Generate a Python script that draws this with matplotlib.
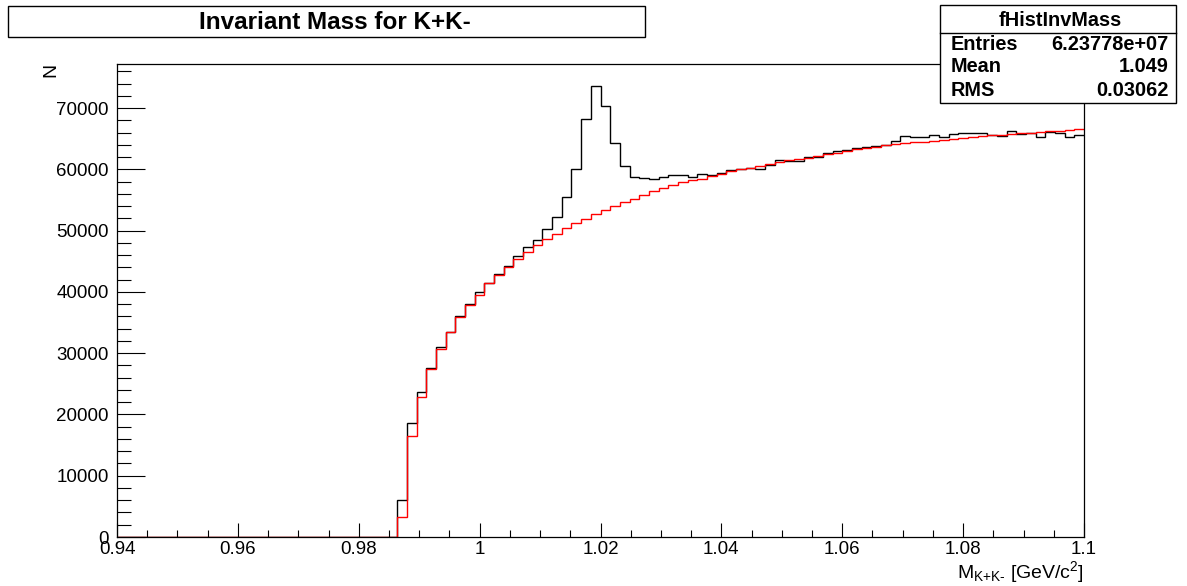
import numpy as np
import matplotlib
matplotlib.use("Agg")
import matplotlib.pyplot as plt
from matplotlib.ticker import MultipleLocator, FuncFormatter
from matplotlib.patches import Rectangle

plt.rcParams['font.family'] = ['Liberation Sans', 'DejaVu Sans']
plt.rcParams['mathtext.fontset'] = 'custom'
plt.rcParams['mathtext.rm'] = 'Liberation Sans'
plt.rcParams['mathtext.it'] = 'Liberation Sans'
plt.rcParams['mathtext.default'] = 'regular'

# ---------------- data ----------------
x_min, x_max, n_bins = 0.94, 1.10, 100
n_empty = 29

data_counts = [
    5990, 18550, 23710, 27520, 31050, 33500, 36060, 37960, 40020, 41390,
    42960, 44270, 45850, 47320, 48460, 50200, 52200, 55420, 59990, 68200,
    73590, 70320, 64340, 60480, 58790, 58570, 58360, 58690, 59010, 59010,
    58800, 59230, 59010, 59440, 59880, 60090, 60210, 59990, 60750, 61510,
    61300, 61400, 61950, 61950, 62600, 62980, 63140, 63410, 63680, 63740,
    63900, 64560, 65480, 65310, 65310, 65600, 65310, 65750, 65970, 65860,
    65970, 65640, 65430, 66290, 65750, 65970, 65310, 66080, 65860, 65310,
    65640,
]
bkg_counts = [
    3210, 16530, 22790, 27360, 30670, 33390, 35950, 37850, 39500, 41390,
    42800, 44000, 45300, 46500, 47640, 48600, 49500, 50370, 51180, 51940,
    52700, 53350, 54000, 54610, 55200, 55900, 56500, 57000, 57450, 57870,
    58200, 58500, 58950, 59300, 59700, 60000, 60300, 60600, 60850, 61150,
    61450, 61700, 61900, 62150, 62450, 62750, 63000, 63250, 63500, 63700,
    63900, 64100, 64250, 64400, 64550, 64700, 64830, 64940, 65100, 65260,
    65430, 65540, 65640, 65750, 65860, 65970, 66080, 66190, 66290, 66450,
    66570,
]
title = "Invariant Mass for K+K-"
stats_name = "fHistInvMass"
stats_rows = [("Entries", "6.23778e+07"), ("Mean", "1.049"), ("RMS", "0.03062")]
y_max = 77200

edges = np.linspace(x_min, x_max, n_bins + 1)
h_data = np.concatenate([np.zeros(n_empty), data_counts])
h_bkg = np.concatenate([np.zeros(n_empty), bkg_counts])

# ---------------- figure ----------------
W, H = 1187, 586
fig = plt.figure(figsize=(W / 100, H / 100), dpi=100)

def fx(px):
    return px / W

def fy(py):
    return 1 - py / H

ax_l, ax_r, ax_t, ax_b = 117, 1084, 64, 537
ax = fig.add_axes([fx(ax_l), fy(ax_b), fx(ax_r - ax_l), (ax_b - ax_t) / H])

ax.stairs(h_data, edges, color='black', linewidth=1.0, baseline=None)
ax.stairs(h_bkg, edges, color='#ff0000', linewidth=1.0, baseline=None)

ax.set_xlim(x_min, x_max)
ax.set_ylim(0, y_max)

ax.xaxis.set_major_locator(MultipleLocator(0.02))
ax.xaxis.set_minor_locator(MultipleLocator(0.005))
ax.yaxis.set_major_locator(MultipleLocator(10000))
ax.yaxis.set_minor_locator(MultipleLocator(2000))

def xfmt(v, pos):
    return f"{v:.2f}".rstrip('0').rstrip('.')
ax.xaxis.set_major_formatter(FuncFormatter(xfmt))
ax.yaxis.set_major_formatter(FuncFormatter(lambda v, p: f"{int(round(v))}"))

ax.tick_params(axis='x', which='major', direction='in', length=10.1, width=0.8,
               top=False, labelsize=13.5, pad=3)
ax.tick_params(axis='x', which='minor', direction='in', length=5.0, width=0.8, top=False)
ax.tick_params(axis='y', which='major', direction='in', length=20.2, width=0.8,
               right=False, labelsize=13.5, pad=6)
ax.tick_params(axis='y', which='minor', direction='in', length=10.1, width=0.8, right=False)
for sp in ax.spines.values():
    sp.set_linewidth(0.9)
    sp.set_color('black')

# axis titles
fig.text(fx(ax_r), fy(578), "M$_{K{+}K\u2010}$ [GeV/c$^{2}$]", ha='right', va='baseline',
         fontsize=14)
fig.text(fx(59), fy(63), "N", ha='right', va='top', rotation=90, fontsize=14)

# title box
tb_l, tb_t, tb_r, tb_b = 8, 6, 645, 37
fig.patches.append(Rectangle((fx(tb_l), fy(tb_b)), fx(tb_r - tb_l), (tb_b - tb_t) / H,
                             transform=fig.transFigure, facecolor='white',
                             edgecolor='black', linewidth=1.0, zorder=5))
fig.text(fx((tb_l + tb_r) / 2 + 8), fy((tb_t + tb_b) / 2 + 1), title, ha='center', va='center',
         fontsize=17.5, fontweight='bold', zorder=6)

# stats box
sb_l, sb_t, sb_r, sb_b = 940, 5, 1176, 103
fig.patches.append(Rectangle((fx(sb_l), fy(sb_b)), fx(sb_r - sb_l), (sb_b - sb_t) / H,
                             transform=fig.transFigure, facecolor='white',
                             edgecolor='black', linewidth=1.0, zorder=5))
fig.add_artist(plt.Line2D([fx(sb_l), fx(sb_r)], [fy(33), fy(33)],
                          transform=fig.transFigure, color='black', linewidth=1.0, zorder=6))
fig.text(fx((sb_l + sb_r) / 2 + 2), fy(20), stats_name, ha='center', va='center',
         fontsize=14.3, fontweight='bold', zorder=7)
row_y = [45, 67, 90]
for (k, v), yy in zip(stats_rows, row_y):
    fig.text(fx(951), fy(yy), k, ha='left', va='center', fontsize=14.3,
             fontweight='bold', zorder=7)
    fig.text(fx(1169), fy(yy), v, ha='right', va='center', fontsize=14.3,
             fontweight='bold', zorder=7)

fig.savefig("out.png", dpi=100)
